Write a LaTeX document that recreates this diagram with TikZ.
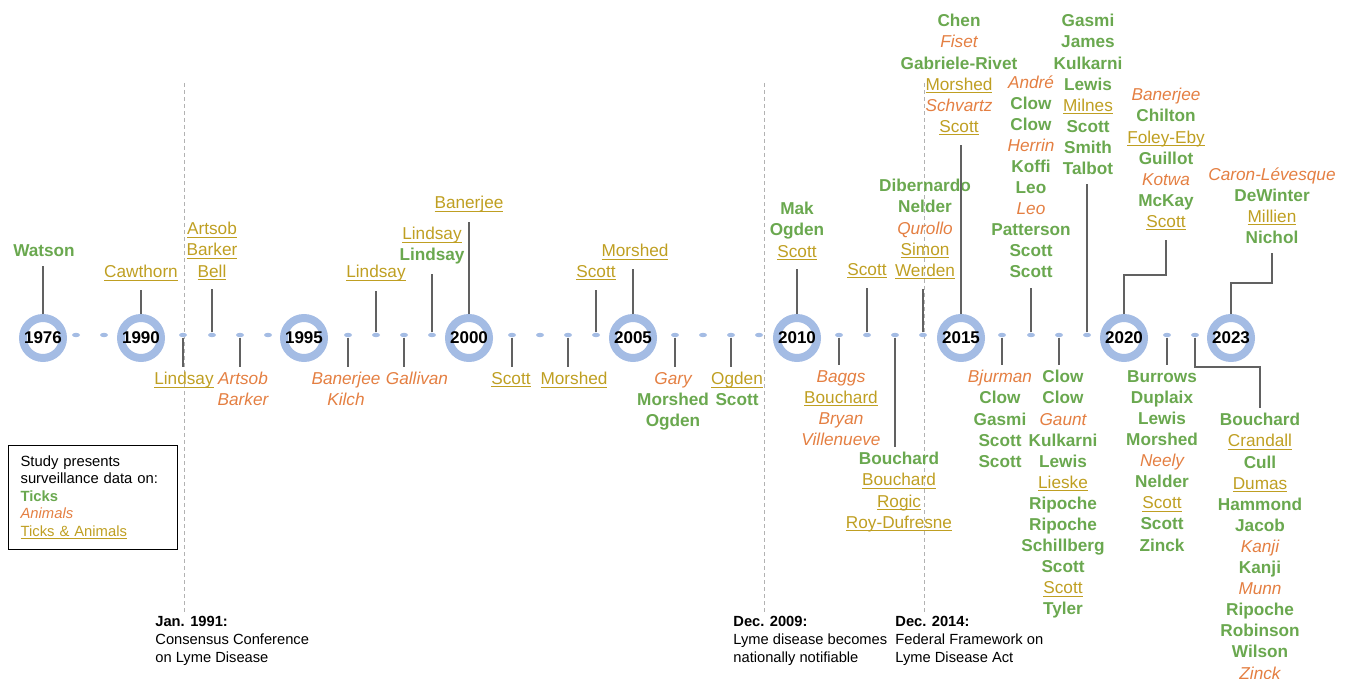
\documentclass[tikz,border=0pt]{standalone}
\usepackage{fontspec}
\setmainfont{Liberation Sans}
\usepackage{xcolor}
\usetikzlibrary{positioning, shapes.geometric, backgrounds, calc}

\definecolor{tickc}{HTML}{6AA84F}
\definecolor{animc}{HTML}{E47F42}
\definecolor{bothc}{HTML}{BF9F22}
\definecolor{ringc}{HTML}{A4BCE4}

\newcommand\tck[1]{{\color{tickc}\bfseries #1}}
\newcommand\anm[1]{{\color{animc}\itshape #1}}
\newcommand\both[1]{\leavevmode{\color{bothc}\setbox0\hbox{#1}\rlap{\rule[-1.5pt]{\wd0}{0.6pt}}\box0}}

\begin{document}
\begin{tikzpicture}[x=0.5pt, y=-0.5pt,
  yearring/.style={circle,draw=ringc,line width=4pt,minimum size=20pt,inner sep=0pt,fill=white,font=\fontsize{8.5}{10}\selectfont\bfseries},
  tickdot/.style={ellipse,fill=ringc,minimum width=4pt,minimum height=2.2pt,inner sep=0pt},
  namelist/.style={align=center,anchor=north,inner sep=0pt,font=\fontsize{8.6}{10.55}\selectfont},
  stemline/.style={draw=black!62,line width=0.75pt},
  eventline/.style={draw=black!30,dash pattern=on 2pt off 1.5pt,line width=0.5pt},
  eventtext/.style={align=left,anchor=north west,inner sep=0pt,font=\fontsize{7.35}{9}\selectfont},
  legend/.style={draw,line width=0.6pt,anchor=north west,align=left,text width=72.5pt,inner xsep=6pt,inner ysep=5pt,font=\fontsize{7.4}{8.75}\selectfont}]
  \useasboundingbox (0,0) rectangle (1349,679);

  % timeline
  \foreach \yr/\x in {1976/43,1990/141,1995/304,2000/469,2005/633,2010/797,2015/961,2020/1124,2023/1231}
    \node[yearring] (c\yr) at (\x,338) {\yr};
  \foreach \x in {76,104,183,212,240,268,348,376,404,432,512,540,568,596,675,703,731,759,839,867,895,923,1002,1031,1059,1087,1167,1195}
    \node[tickdot] (d\x) at (\x,335) {};

  % studies above the line
  \node[namelist] (u1976) at (44,244) {\tck{Watson}};
  \node[namelist] (u1990) at (141,265) {\both{Cawthorn}};
  \node[namelist] (u212) at (212,222) {\both{Artsob}\\\both{Barker}\\\both{Bell}};
  \node[namelist] (u376) at (376,265) {\both{Lindsay}};
  \node[namelist] (u432) at (432,227) {\both{Lindsay}\\\tck{Lindsay}};
  \node[namelist] (u2000) at (469,196) {\both{Banerjee}};
  \node[namelist] (u596) at (596,265) {\both{Scott}};
  \node[namelist] (u2005) at (635,244) {\both{Morshed}};
  \node[namelist] (u2010) at (797,202) {\tck{Mak}\\\tck{Ogden}\\\both{Scott}};
  \node[namelist] (u867) at (867,263) {\both{Scott}};
  \node[namelist] (u923) at (925,179) {\tck{Dibernardo}\\\tck{Nelder}\\\anm{Qurollo}\\\both{Simon}\\\both{Werden}};
  \node[namelist] (u2015) at (959,14) {\tck{Chen}\\\anm{Fiset}\\\tck{Gabriele-Rivet}\\\both{Morshed}\\\anm{Schvartz}\\\both{Scott}};
  \node[namelist] (u1031) at (1031,75) {\anm{André}\\\tck{Clow}\\\tck{Clow}\\\anm{Herrin}\\\tck{Koffi}\\\tck{Leo}\\\anm{Leo}\\\tck{Patterson}\\\tck{Scott}\\\tck{Scott}};
  \node[namelist] (u1087) at (1088,14) {\tck{Gasmi}\\\tck{James}\\\tck{Kulkarni}\\\tck{Lewis}\\\both{Milnes}\\\tck{Scott}\\\tck{Smith}\\\tck{Talbot}};
  \node[namelist] (u2020) at (1166,88) {\anm{Banerjee}\\\tck{Chilton}\\\both{Foley-Eby}\\\tck{Guillot}\\\anm{Kotwa}\\\tck{McKay}\\\both{Scott}};
  \node[namelist] (u2023) at (1272,167) {\anm{Caron-Lévesque}\\\tck{DeWinter}\\\both{Millien}\\\tck{Nichol}};

  % studies below the line
  \node[namelist] (l183) at (184,372) {\both{Lindsay}};
  \node[namelist] (l240) at (243,372) {\anm{Artsob}\\\anm{Barker}};
  \node[namelist] (l348) at (346,372) {\anm{Banerjee}\\\anm{Kilch}};
  \node[namelist] (l404) at (417,372) {\anm{Gallivan}};
  \node[namelist] (l512) at (511,372) {\both{Scott}};
  \node[namelist] (l568) at (574,372) {\both{Morshed}};
  \node[namelist] (l675) at (673,372) {\anm{Gary}\\\tck{Morshed}\\\tck{Ogden}};
  \node[namelist] (l731) at (737,372) {\both{Ogden}\\\tck{Scott}};
  \node[namelist] (l839) at (841,370) {\anm{Baggs}\\\both{Bouchard}\\\anm{Bryan}\\\anm{Villenueve}};
  \node[namelist] (l895) at (899,452) {\tck{Bouchard}\\\both{Bouchard}\\\both{Rogic}\\\both{Roy-Dufresne}};
  \node[namelist] (l1002) at (1000,370) {\anm{Bjurman}\\\tck{Clow}\\\tck{Gasmi}\\\tck{Scott}\\\tck{Scott}};
  \node[namelist] (l1059) at (1063,370) {\tck{Clow}\\\tck{Clow}\\\anm{Gaunt}\\\tck{Kulkarni}\\\tck{Lewis}\\\both{Lieske}\\\tck{Ripoche}\\\tck{Ripoche}\\\tck{Schillberg}\\\tck{Scott}\\\both{Scott}\\\tck{Tyler}};
  \node[namelist] (l1167) at (1162,370) {\tck{Burrows}\\\tck{Duplaix}\\\tck{Lewis}\\\tck{Morshed}\\\anm{Neely}\\\tck{Nelder}\\\both{Scott}\\\tck{Scott}\\\tck{Zinck}};
  \node[namelist] (l1195) at (1260,413) {\tck{Bouchard}\\\both{Crandall}\\\tck{Cull}\\\both{Dumas}\\\tck{Hammond}\\\tck{Jacob}\\\anm{Kanji}\\\tck{Kanji}\\\anm{Munn}\\\tck{Ripoche}\\\tck{Robinson}\\\tck{Wilson}\\\anm{Zinck}};

  % stems
  \foreach \a/\b in {c1976/u1976,c1990/u1990,d212/u212,d376/u376,d432/u432,c2000/u2000,d596/u596,c2005/u2005,c2010/u2010,d867/u867,d923/u923,c2015/u2015,d1031/u1031,d1087/u1087}
    \draw[stemline,shorten >=4.5pt] (\a) -- (\a |- \b.south);
  \foreach \a/\b in {d183/l183,d240/l240,d348/l348,d404/l404,d512/l512,d568/l568,d675/l675,d731/l731,d839/l839,d895/l895,d1002/l1002,d1059/l1059,d1167/l1167}
    \draw[stemline,shorten >=2.5pt] (\a) -- (\a |- \b.north);
  \draw[stemline,shorten >=4.5pt] (c2020) -- ++(0,-63) -| (u2020.south);
  \draw[stemline,shorten >=4.5pt] (c2023) -- ++(0,-55) -| (u2023.south);
  \draw[stemline,shorten >=2.5pt] (d1195) -- ++(0,32) -| (l1195.north);

  % events
  \node[eventtext] (e1991) at (155,616) {\textbf{Jan. 1991:}\\Consensus Conference\\on Lyme Disease};
  \node[eventtext] (e2009) at (733,616) {\textbf{Dec. 2009:}\\Lyme disease becomes\\nationally notifiable};
  \node[eventtext] (e2014) at (895,616) {\textbf{Dec. 2014:}\\Federal Framework on\\Lyme Disease Act};
  \coordinate (t1991) at (184,83);
  \coordinate (t2009) at (764,83);
  \coordinate (t2014) at (924,83);
  \begin{scope}[on background layer]
    \draw[eventline,shorten >=2pt] (t1991) -- (t1991 |- e1991.north);
    \draw[eventline,shorten >=2pt] (t2009) -- (t2009 |- e2009.north);
    \draw[eventline,shorten >=2pt] (t2014) -- (t2014 |- e2014.north);
  \end{scope}

  % legend
  \node[legend] (key) at (8,445) {Study presents\\surveillance data on:\\\tck{Ticks}\\\anm{Animals}\\\both{Ticks \& Animals}};
\end{tikzpicture}
\end{document}
